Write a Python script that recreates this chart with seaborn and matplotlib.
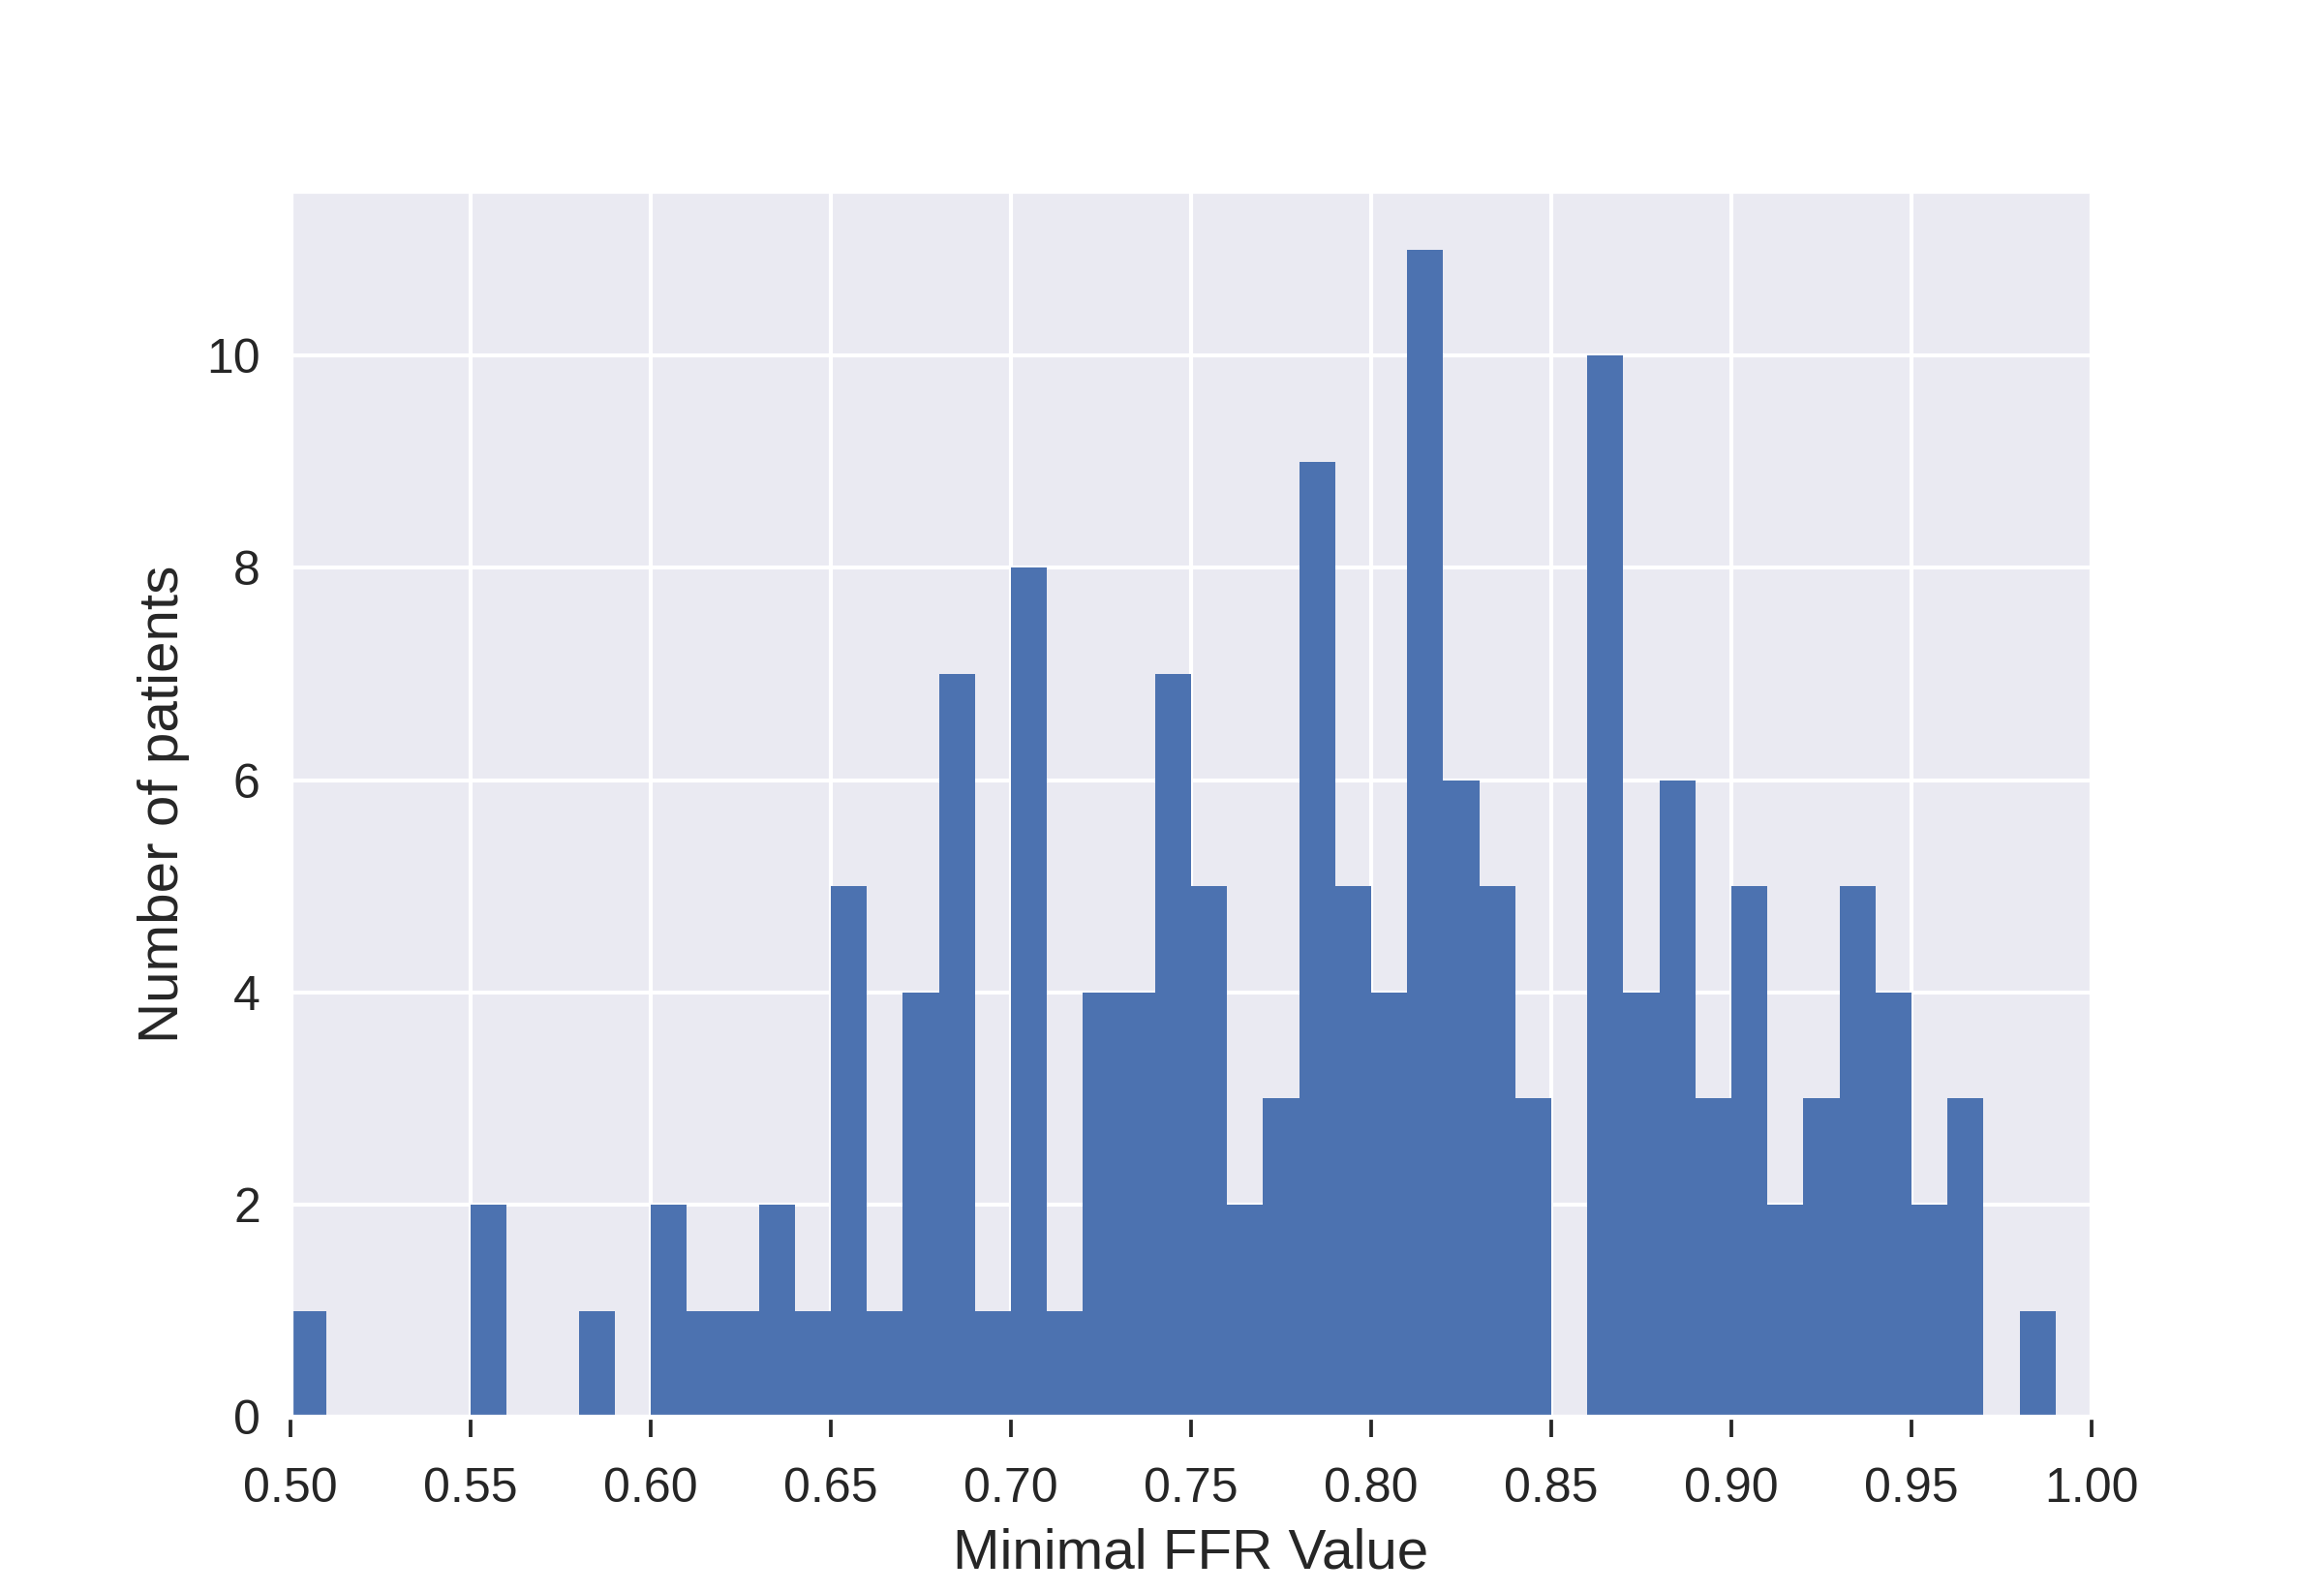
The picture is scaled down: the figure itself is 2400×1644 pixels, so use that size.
import numpy as np
import pandas as pd
import seaborn as sns
import matplotlib.pyplot as plt

# Histogram counts per 0.01-wide bin
bin_starts = [0.50, 0.51, 0.52, 0.53, 0.54, 0.55, 0.56, 0.57, 0.58, 0.59,
              0.60, 0.61, 0.62, 0.63, 0.64, 0.65, 0.66, 0.67, 0.68, 0.69,
              0.70, 0.71, 0.72, 0.73, 0.74, 0.75, 0.76, 0.77, 0.78, 0.79,
              0.80, 0.81, 0.82, 0.83, 0.84, 0.85, 0.86, 0.87, 0.88, 0.89,
              0.90, 0.91, 0.92, 0.93, 0.94, 0.95, 0.96, 0.97, 0.98, 0.99]
counts = [1, 0, 0, 0, 0, 2, 0, 0, 1, 0,
          2, 1, 1, 2, 1, 5, 1, 4, 7, 1,
          8, 1, 4, 4, 7, 5, 2, 3, 9, 5,
          4, 11, 6, 5, 3, 0, 10, 4, 6, 3,
          5, 2, 3, 5, 4, 2, 3, 0, 1, 0]
x_ticks = [0.50, 0.55, 0.60, 0.65, 0.70, 0.75, 0.80, 0.85, 0.90, 0.95, 1.00]

sns.set_theme(style="darkgrid", context="notebook")
plt.rcParams["font.family"] = ["Liberation Sans", "DejaVu Sans"]

fig, ax = plt.subplots(figsize=(8, 5.48), dpi=300)
fig.subplots_adjust(left=0.125, right=0.9, bottom=0.11, top=0.88)

df = pd.DataFrame({"ffr": np.array(bin_starts) + 0.005, "n": counts})
edges = [round(0.50 + 0.01 * i, 2) for i in range(51)]
sns.histplot(data=df, x="ffr", weights="n", bins=edges, color="#4C72B0",
             alpha=1, linewidth=0, ax=ax)

ax.set_xlim(0.5, 1.0)
ax.set_xticks(x_ticks)
ax.set_xticklabels([f"{t:.2f}" for t in x_ticks])
ax.set_yticks([0, 2, 4, 6, 8, 10])
ax.tick_params(axis="x", bottom=True, direction="out", length=5, width=0.9,
               color="#262626", pad=7.5, labelsize=12)
ax.tick_params(axis="y", left=False, length=0, pad=7.5, labelsize=12)
ax.set_xlabel("Minimal FFR Value", fontsize=14)
ax.set_ylabel("Number of patients", fontsize=14)

fig.savefig("out.png", dpi=300)
